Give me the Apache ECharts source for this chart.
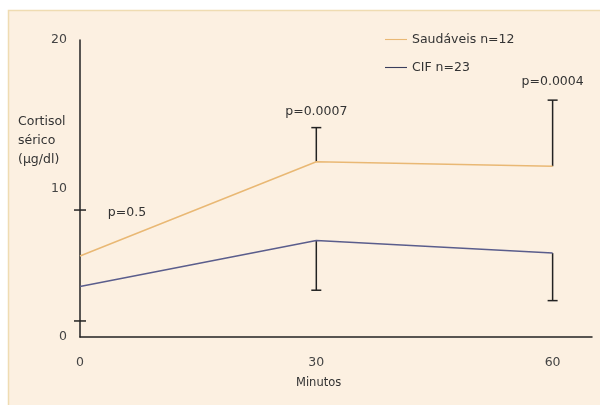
<!DOCTYPE html>
<html>
<head>
<meta charset="utf-8">
<script src="https://cdn.jsdelivr.net/npm/echarts@6/dist/echarts.min.js"></script>
<style>html,body{margin:0;padding:0;background:#fff}#c{width:600px;height:405px}</style>
</head>
<body>
<div id="c"></div>
<script>
var minutes = [0, 30, 60];
var saudaveis = [5.45, 11.8, 11.5];
var cif = [3.4, 6.5, 5.65];
var saudaveisUpper = [null, 14.1, 15.95];
var cifLower = [null, 3.15, 2.45];
var yTickMarks = [8.55, 1.08];
var pLabels = ['p=0.5', 'p=0.0007', 'p=0.0004'];
var seriesNames = ['Saudáveis n=12', 'CIF n=23'];
var xTickLabels = ['0', '30', '60'];
var yTickLabels = ['0', '10', '20'];

var font = '"DejaVu Sans", Verdana, sans-serif';
var chart = echarts.init(document.getElementById('c'), null, {renderer: 'canvas'});

function errData(vals, ends) {
  var out = [];
  for (var i = 0; i < vals.length; i++) {
    if (ends[i] != null) out.push([minutes[i], vals[i], ends[i]]);
  }
  return out;
}

function errRender(params, api) {
  var p0 = api.coord([api.value(0), api.value(1)]);
  var p1 = api.coord([api.value(0), api.value(2)]);
  var cap = 5;
  return {
    type: 'group',
    children: [
      {type: 'line', shape: {x1: p0[0], y1: p0[1], x2: p1[0], y2: p1[1]}, style: {stroke: '#222', lineWidth: 1.5}},
      {type: 'line', shape: {x1: p1[0] - cap, y1: p1[1], x2: p1[0] + cap, y2: p1[1]}, style: {stroke: '#222', lineWidth: 1.5}}
    ]
  };
}

// p label offsets relative to anchor points (layout only)
var pAnchors = [[minutes[0], saudaveis[0]], [minutes[1], saudaveisUpper[1]], [minutes[2], saudaveisUpper[2]]];
var pOffsets = [[47, -43], [0, -16], [0, -18]];

chart.setOption({
  animation: false,
  backgroundColor: '#ffffff',
  graphic: [
    {type: 'rect', z: -10, shape: {x: 8.5, y: 10.5, width: 600, height: 400}, style: {fill: '#fcf0e1', stroke: '#efdcb2', lineWidth: 1.5}},
    {type: 'text', left: 18, top: 112, style: {text: 'Cortisol\nsérico\n(μg/dl)', font: '12.5px ' + font, fill: '#333', lineHeight: 19}},
    {type: 'text', left: 296, top: 377, style: {text: 'Minutos', font: '11.5px ' + font, fill: '#333'}}
  ],
  legend: {
    orient: 'vertical',
    left: 380,
    top: 28,
    itemWidth: 22,
    itemHeight: 10,
    itemGap: 15,
    icon: 'path://M0,4.5L20,4.5L20,5.5L0,5.5Z',
    textStyle: {fontFamily: font, fontSize: 12.5, color: '#333'},
    data: seriesNames
  },
  grid: {left: 80, right: 8, top: 40, bottom: 68},
  xAxis: {
    type: 'value', min: 0, max: 65, interval: 30,
    axisLine: {show: true, lineStyle: {color: '#222', width: 1.5}},
    axisTick: {show: false},
    splitLine: {show: false},
    axisLabel: {showMaxLabel: false, margin: 19, fontFamily: font, fontSize: 12.5, color: '#444',
      formatter: function (v) { return xTickLabels[minutes.indexOf(v)] || ''; }}
  },
  yAxis: {
    type: 'value', min: 0, max: 20, interval: 10,
    axisLine: {show: true, lineStyle: {color: '#222', width: 1.5}},
    axisTick: {show: false},
    splitLine: {show: false},
    axisLabel: {margin: 13, fontFamily: font, fontSize: 12.5, color: '#444',
      formatter: function (v) { return yTickLabels[v / 10]; }}
  },
  series: [
    {name: seriesNames[0], type: 'line', symbol: 'none', data: minutes.map(function (m, i) { return [m, saudaveis[i]]; }),
      lineStyle: {color: '#e9b874', width: 1.5}, itemStyle: {color: '#e9b874'}, z: 3},
    {name: seriesNames[1], type: 'line', symbol: 'none', data: minutes.map(function (m, i) { return [m, cif[i]]; }),
      lineStyle: {color: '#5a5d8c', width: 1.5}, itemStyle: {color: '#3a3d5c'}, z: 3},
    {type: 'custom', renderItem: errRender, data: errData(saudaveis, saudaveisUpper), z: 2, silent: true},
    {type: 'custom', renderItem: errRender, data: errData(cif, cifLower), z: 2, silent: true},
    {type: 'custom', silent: true, z: 4,
      data: yTickMarks.map(function (v) { return [0, v]; }),
      renderItem: function (params, api) {
        var p = api.coord([api.value(0), api.value(1)]);
        return {type: 'line', shape: {x1: p[0] - 6, y1: p[1], x2: p[0] + 6, y2: p[1]}, style: {stroke: '#222', lineWidth: 1.5}};
      }},
    {type: 'custom', silent: true, z: 5,
      data: pAnchors.map(function (a, i) { return [a[0], a[1], i]; }),
      renderItem: function (params, api) {
        var i = api.value(2);
        var p = api.coord([api.value(0), api.value(1)]);
        return {type: 'text', x: p[0] + pOffsets[i][0], y: p[1] + pOffsets[i][1],
          style: {text: pLabels[i], font: '12.5px ' + font, fill: '#333', align: 'center', verticalAlign: 'middle'}};
      }}
  ]
});
</script>
</body>
</html>
